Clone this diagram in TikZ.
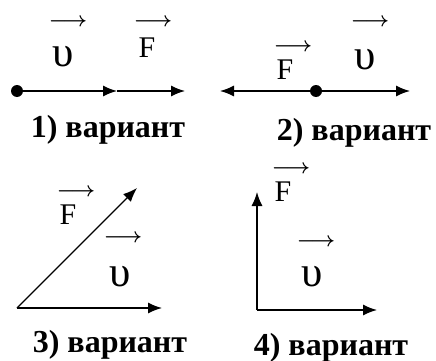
\documentclass[tikz,border=0pt]{standalone}
\usepackage{fontspec}
\setmainfont{Liberation Serif}
\usetikzlibrary{arrows.meta}
\begin{document}
\begin{tikzpicture}[x=1pt,y=-1pt,
 vec/.style={line width=1.3pt,-{Latex[length=14pt,width=11pt]}},
 dotn/.style={circle,fill=black,inner sep=0pt,minimum size=12pt},
 lbl/.style={font=\fontsize{32}{34}\selectfont\bfseries,inner sep=0pt,anchor=base},
 ltr/.style={font=\fontsize{30}{32}\selectfont,inner sep=0pt},
 ups/.style={font=\fontsize{43}{45}\selectfont,inner sep=0pt},
 ovr/.style={font=\fontsize{20}{22}\selectfont\boldmath,inner sep=0pt}]
\useasboundingbox (0,0) rectangle (436,361);
% panel 1
\coordinate (s1) at (17,91);
\coordinate (m1) at (117,91);
\coordinate (e1) at (185,91);
\draw[vec] (s1) -- (m1);
\draw[vec] (m1) -- (e1);
\node[dotn] (d1) at (s1) {};
\node[ups] (u1) at (63,57) {υ};
\node[ovr] (au1) at (68,22) {$\longrightarrow$};
\node[ltr] (f1) at (147,48) {F};
\node[ovr] (af1) at (153,22) {$\longrightarrow$};
\node[lbl] (l1) at (108,137) {1) вариант};
% panel 2
\coordinate (s2) at (316,91);
\coordinate (a2) at (220,91);
\coordinate (b2) at (410,91);
\draw[vec] (s2) -- (a2);
\draw[vec] (s2) -- (b2);
\node[dotn] (d2) at (s2) {};
\node[ltr] (f2) at (285,70) {F};
\node[ovr] (af2) at (293,47) {$\longrightarrow$};
\node[ups] (u2) at (365,60) {υ};
\node[ovr] (au2) at (370,22) {$\longrightarrow$};
\node[lbl] (l2) at (354,140) {2) вариант};
% panel 3
\coordinate (o3) at (17,308);
\coordinate (t3) at (137,188);
\coordinate (h3) at (162,308);
\draw[vec] (o3) -- (t3);
\draw[vec] (o3) -- (h3);
\node[ltr] (f3) at (68,215) {F};
\node[ovr] (af3) at (76,192) {$\longrightarrow$};
\node[ups] (u3) at (120,277) {υ};
\node[ovr] (au3) at (123,238) {$\longrightarrow$};
\node[lbl] (l3) at (110,352) {3) вариант};
% panel 4
\coordinate (o4) at (257,310);
\coordinate (t4) at (257,192);
\coordinate (h4) at (377,310);
\draw[vec] (o4) -- (t4);
\draw[vec] (o4) -- (h4);
\node[ltr] (f4) at (283,192) {F};
\node[ovr] (af4) at (291,169) {$\longrightarrow$};
\node[ups] (u4) at (312,277) {υ};
\node[ovr] (au4) at (316,242) {$\longrightarrow$};
\node[lbl] (l4) at (331,355) {4) вариант};
\end{tikzpicture}
\end{document}
